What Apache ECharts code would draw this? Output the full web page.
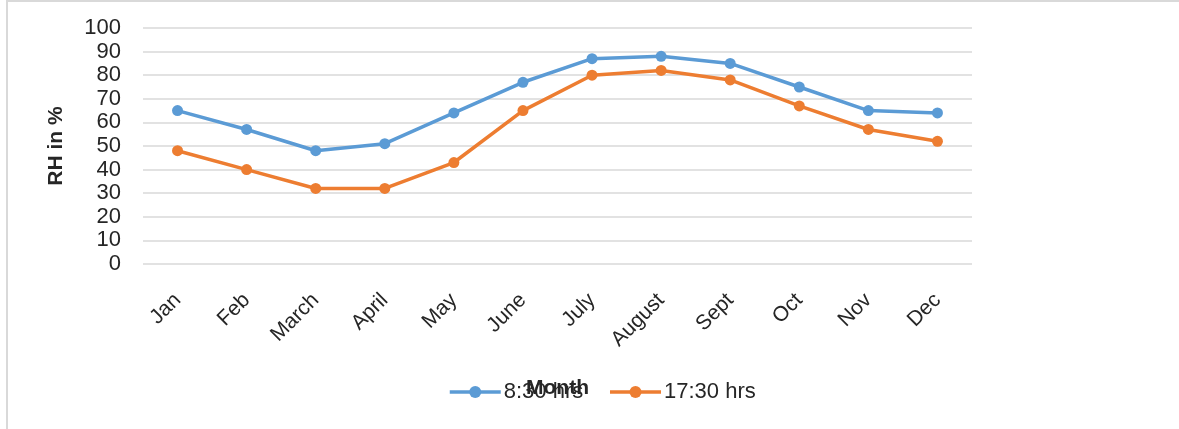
<!DOCTYPE html>
<html>
<head>
<meta charset="utf-8">
<script src="https://cdn.jsdelivr.net/npm/echarts@6/dist/echarts.min.js"></script>
<style>
html,body{margin:0;padding:0;background:#fff;}
#c{width:1179px;height:429px;}
</style>
</head>
<body>
<div id="c"></div>
<script>
const months = ['Jan','Feb','March','April','May','June','July','August','Sept','Oct','Nov','Dec'];
const rh0830 = [65,57,48,51,64,77,87,88,85,75,65,64];
const rh1730 = [48,40,32,32,43,65,80,82,78,67,57,52];
const yTicks = {min:0, max:100, interval:10};

const chart = echarts.init(document.getElementById('c'));
const font = 'Liberation Sans, Arial, sans-serif';
chart.setOption({
  animation:false,
  backgroundColor:'#fff',
  grid:{left:143,right:207,top:28,bottom:165},
  legend:{
    data:['8:30 hrs','17:30 hrs'],
    top:376,left:443,
    itemWidth:51,itemHeight:15,itemGap:25,
    lineStyle:{width:3.5},
    textStyle:{fontFamily:font,fontSize:22,color:'#262626',padding:[0,0,0,-2]}
  },
  xAxis:{
    type:'category',data:months,boundaryGap:true,
    name:'Month',nameLocation:'middle',nameGap:114,
    nameTextStyle:{fontFamily:font,fontSize:21,fontWeight:'bold',color:'#262626'},
    axisLine:{show:false},axisTick:{show:false},
    axisLabel:{rotate:45,margin:33,fontFamily:font,fontSize:21,color:'#262626'}
  },
  yAxis:{
    type:'value',min:yTicks.min,max:yTicks.max,interval:yTicks.interval,
    name:'RH in %',nameLocation:'middle',nameGap:76,
    nameTextStyle:{fontFamily:font,fontSize:21,fontWeight:'bold',color:'#262626'},
    axisLine:{show:false},axisTick:{show:false},
    axisLabel:{margin:22,fontFamily:font,fontSize:22,color:'#262626'},
    splitLine:{lineStyle:{color:'#d9d9d9',width:1.5}}
  },
  series:[
    {name:'8:30 hrs',type:'line',data:rh0830,symbol:'circle',symbolSize:11,
     itemStyle:{color:'#5B9BD5'},lineStyle:{color:'#5B9BD5',width:3.5}},
    {name:'17:30 hrs',type:'line',data:rh1730,symbol:'circle',symbolSize:11,
     itemStyle:{color:'#ED7D31'},lineStyle:{color:'#ED7D31',width:3.5}}
  ],
  graphic:[
    {type:'line',shape:{x1:7,y1:0,x2:7,y2:429},style:{stroke:'#d9d9d9',lineWidth:2},silent:true},
    {type:'line',shape:{x1:7,y1:1,x2:1179,y2:1},style:{stroke:'#d9d9d9',lineWidth:2},silent:true}
  ]
});
</script>
</body>
</html>
